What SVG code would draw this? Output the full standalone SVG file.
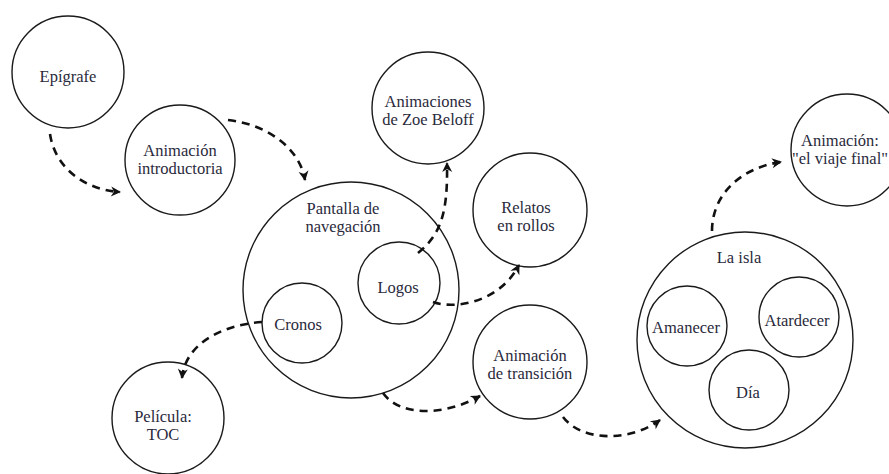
<svg xmlns="http://www.w3.org/2000/svg" width="889" height="474" viewBox="0 0 889 474">
<style>
.n{fill:#fff;stroke:#1a1a1a;stroke-width:1.4}
.t{font-size:16.5px;fill:#2a2a3c;text-anchor:middle}
.c{fill:none;stroke:#111;stroke-width:2.6;stroke-dasharray:8 6;marker-end:url(#ah)}
</style>
<defs>
<marker id="ah" viewBox="0 0 12 12" refX="10" refY="6" markerWidth="12" markerHeight="12" markerUnits="userSpaceOnUse" orient="auto">
<path d="M1,1 L11,6 L1,11 L4,6 Z" fill="#111"/>
</marker>
</defs>
<rect width="889" height="474" fill="#fff"/>
<g font-family="Liberation Serif, DejaVu Serif, serif">
<g id="n-epigrafe"><circle class="n" cx="68" cy="72" r="56"/><text class="t" x="68" y="82">Epígrafe</text></g>
<g id="n-intro"><circle class="n" cx="180" cy="160" r="55"/><text class="t" x="180" y="156">Animación</text><text class="t" x="180" y="174">introductoria</text></g>
<g id="n-zoe"><circle class="n" cx="428" cy="108" r="56"/><text class="t" x="428" y="107">Animaciones</text><text class="t" x="428" y="125">de Zoe Beloff</text></g>
<g id="n-relatos"><circle class="n" cx="530" cy="210" r="57"/><text class="t" x="526" y="213">Relatos</text><text class="t" x="526" y="231">en rollos</text></g>
<g id="n-viaje"><circle class="n" cx="847" cy="150" r="56"/><text class="t" x="840" y="146">Animación:</text><text class="t" x="840" y="164">"el viaje final"</text></g>
<g id="n-pantalla"><circle class="n" cx="351" cy="290" r="108"/><text class="t" x="343" y="214">Pantalla de</text><text class="t" x="343" y="232">navegación</text>
<g id="n-logos"><circle class="n" cx="399" cy="283" r="41"/><text class="t" x="398" y="293">Logos</text></g>
<g id="n-cronos"><circle class="n" cx="302" cy="323" r="40"/><text class="t" x="298" y="330">Cronos</text></g>
</g>
<g id="n-pelicula"><circle class="n" cx="168" cy="418" r="56"/><text class="t" x="163" y="422">Película:</text><text class="t" x="163" y="440">TOC</text></g>
<g id="n-transicion"><circle class="n" cx="530" cy="362" r="57"/><text class="t" x="530" y="361">Animación</text><text class="t" x="530" y="379">de transición</text></g>
<g id="n-isla"><circle class="n" cx="745" cy="340" r="108"/><text class="t" x="739" y="263">La isla</text>
<g id="n-amanecer"><circle class="n" cx="687" cy="326" r="40"/><text class="t" x="686" y="333">Amanecer</text></g>
<g id="n-atardecer"><circle class="n" cx="799" cy="317" r="40"/><text class="t" x="797" y="326">Atardecer</text></g>
<g id="n-dia"><circle class="n" cx="749" cy="390" r="40"/><text class="t" x="748" y="398">Día</text></g>
</g>
</g>
<g id="connectors">
<path class="c" d="M50,134 C55,168 85,190 120,192"/>
<path class="c" d="M228,120 C270,125 300,150 305,180"/>
<path class="c" d="M418,253 C440,235 448,215 447,163"/>
<path class="c" d="M433,302 C455,310 500,302 519,265"/>
<path class="c" d="M262,322 C220,325 185,345 182,378"/>
<path class="c" d="M383,393 C400,417 445,416 480,396"/>
<path class="c" d="M563,417 C582,442 630,442 660,420"/>
<path class="c" d="M712,231 C712,195 740,168 781,162"/>
</g>
</svg>
